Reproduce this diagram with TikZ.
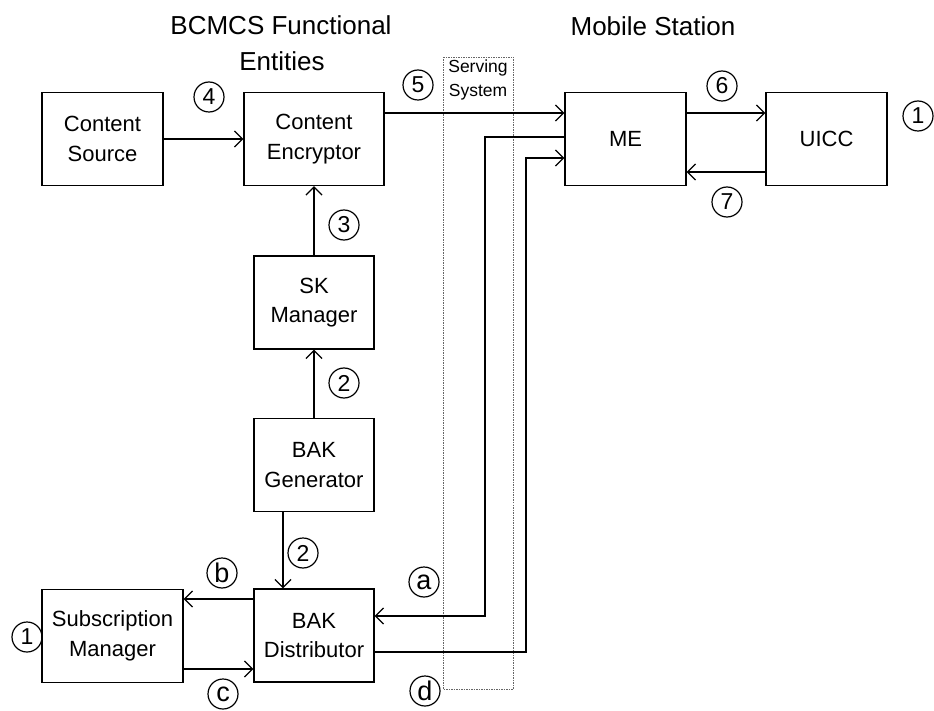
\documentclass[tikz,border=0pt]{standalone}
\usepackage{fontspec}
\setmainfont{Liberation Sans}
\usetikzlibrary{arrows.meta}
\begin{document}
\begin{tikzpicture}[x=1pt,y=-1pt,
  box/.style={draw, line width=1.3pt, minimum height=93pt, align=center, inner sep=0pt, font=\fontsize{22}{29.5}\selectfont},
  num/.style={circle, draw, line width=1.2pt, minimum size=30pt, inner sep=0pt, font=\fontsize{23}{23}\selectfont},
  lettr/.style={num, font=\fontsize{27}{27}\selectfont},
  arr/.style={line width=1.3pt, -{Straight Barb[length=8pt,width=16pt]}},
  ttl/.style={anchor=base, inner sep=0pt, font=\fontsize{26}{26}\selectfont},
  ssys/.style={draw=gray!80!black, line width=0.8pt, dash pattern=on 1.5pt off 1pt}]
\path[use as bounding box] (0,0) rectangle (934,711);

% titles
\node[ttl] (t1) at (281,35) {BCMCS Functional};
\node[ttl] (t2) at (282,71) {Entities};
\node[ttl] (t3) at (653,36) {Mobile Station};

% serving system
\draw[ssys] (443,57) rectangle (513,689);
\node[anchor=base, inner sep=0pt, font=\fontsize{17.5}{17.5}\selectfont] (s1) at (478,73) {Serving};
\node[anchor=base, inner sep=0pt, font=\fontsize{17.5}{17.5}\selectfont] (s2) at (478,97) {System};

% boxes
\node[box, minimum width=121pt] (cs) at (102.5,139) {Content\\Source};
\node[box, minimum width=140pt] (ce) at (314,139) {Content\\Encryptor};
\node[box, minimum width=120pt] (sk) at (314,302.5) {SK\\Manager};
\node[box, minimum width=120pt] (bg) at (314,465) {BAK\\Generator};
\node[box, minimum width=120pt] (bd) at (314,635.5) {BAK\\Distributor};
\node[box, minimum width=141pt] (sm) at (112.5,636) {Subscription\\Manager};
\node[box, minimum width=121pt] (me) at (625.5,139) {ME};
\node[box, minimum width=121pt] (ui) at (826.5,139) {UICC};

% helper coordinates
\coordinate (y5) at (0,113);
\coordinate (y7) at (0,172);
\coordinate (a1) at (485,137);
\coordinate (a2) at (485,616);
\coordinate (d1) at (526,652);
\coordinate (d2) at (526,158);
\coordinate (x2) at (283,0);
\coordinate (yb) at (0,599);
\coordinate (yc) at (0,669);

% connectors
\draw[arr] (cs.east) -- (ce.west);
\draw[arr] (sk.north) -- (ce.south);
\draw[arr] (bg.north) -- (sk.south);
\draw[arr] (bg.south -| x2) -- (bd.north -| x2);
\draw[arr] (bd.west |- yb) -- (sm.east |- yb);
\draw[arr] (sm.east |- yc) -- (bd.west |- yc);
\draw[arr] (ce.east |- y5) -- (me.west |- y5);
\draw[arr] (me.west |- a1) -- (a1) -- (a2) -- (bd.east |- a2);
\draw[arr] (bd.east |- d1) -- (d1) -- (d2) -- (me.west |- d2);
\draw[arr] (me.east |- y5) -- (ui.west |- y5);
\draw[arr] (ui.west |- y7) -- (me.east |- y7);

% circled labels
\node[num] (n4) at (209,97) {4};
\node[num] (n5) at (418,85) {5};
\node[num] (n3) at (344,225) {3};
\node[num] (n2a) at (344,383) {2};
\node[num] (n2b) at (303,553) {2};
\node[lettr] (nb) at (222,573) {b};
\node[lettr] (nc) at (223,694) {c};
\node[lettr] (na) at (424,582) {a};
\node[lettr] (nd) at (425,691) {d};
\node[num] (n1a) at (27,637) {1};
\node[num] (n1b) at (918,116) {1};
\node[num] (n6) at (722,86) {6};
\node[num] (n7) at (727,202) {7};
\end{tikzpicture}
\end{document}
